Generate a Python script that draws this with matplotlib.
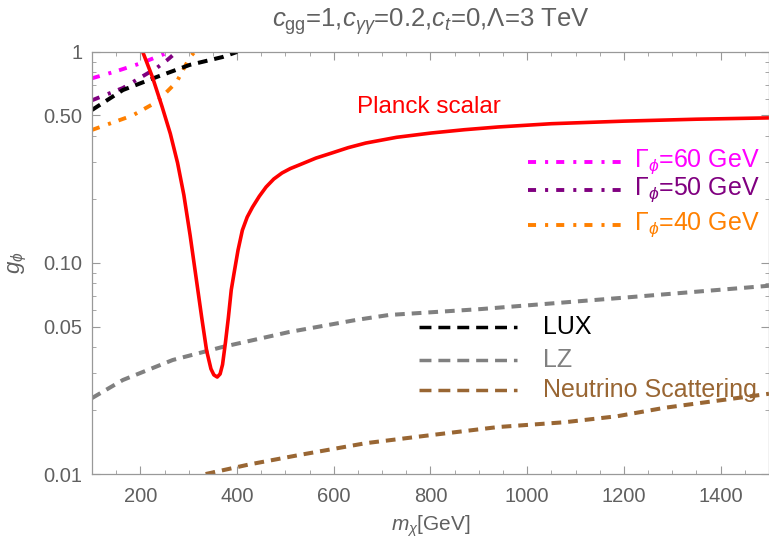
import numpy as np
import matplotlib
matplotlib.use('Agg')
import matplotlib.pyplot as plt
from matplotlib.lines import Line2D
from matplotlib.ticker import FixedLocator, MultipleLocator, LogLocator, NullFormatter

plt.rcParams['font.family'] = ['Liberation Sans', 'DejaVu Sans']
plt.rcParams['mathtext.fontset'] = 'custom'
plt.rcParams['mathtext.rm'] = 'Liberation Sans'
plt.rcParams['mathtext.it'] = 'Liberation Sans:italic'
plt.rcParams['lines.scale_dashes'] = False

# Planck scalar relic curve
red_m = [205, 225, 245, 262, 277, 290, 303, 316, 327, 337, 346, 352, 359, 365, 370, 376,
         382, 388, 394, 402, 411, 421, 432, 446, 460, 476, 493, 510, 528, 563, 596, 630,
         666, 730, 802, 870, 940, 1050, 1200, 1350, 1500]
red_g = [1.0, 0.76, 0.55, 0.41, 0.298, 0.21, 0.135, 0.083, 0.055, 0.0385, 0.0315, 0.0295,
         0.0288, 0.0298, 0.033, 0.042, 0.055, 0.0745, 0.09, 0.115, 0.143, 0.165, 0.184,
         0.207, 0.229, 0.250, 0.267, 0.280, 0.291, 0.314, 0.332, 0.352, 0.370, 0.394,
         0.413, 0.428, 0.441, 0.457, 0.470, 0.480, 0.487]

# width contours
w60_m = [100, 150, 205, 240, 262]
w60_g = [0.75, 0.81, 0.89, 0.96, 1.0]
w50_m = [100, 164, 234, 256, 275]
w50_g = [0.59, 0.675, 0.84, 0.917, 1.0]
w40_m = [100, 184, 234, 275, 302, 312]
w40_g = [0.427, 0.50, 0.58, 0.72, 0.94, 1.0]

# direct detection limits
lux_m = [100, 164, 234, 302, 370, 400]
lux_g = [0.531, 0.66, 0.761, 0.868, 0.946, 1.0]
lz_m = [100, 164, 267, 370, 508, 646, 714, 905, 1193, 1500]
lz_g = [0.0229, 0.0279, 0.0347, 0.040, 0.0471, 0.0537, 0.0567, 0.0605, 0.0683, 0.078]
nu_m = [335, 425, 528, 666, 802, 940, 1078, 1187, 1284, 1482, 1500]
nu_g = [0.01, 0.0111, 0.0123, 0.0140, 0.0153, 0.0167, 0.0176, 0.0188, 0.0206, 0.0237, 0.0240]

ytick_vals = [0.01, 0.05, 0.1, 0.5, 1]
ytick_labels = ['0.01', '0.05', '0.10', '0.50', '1']

RED = '#FF0000'
MAGENTA = '#FF00FF'
PURPLE = '#800080'
ORANGE = '#FF8000'
GRAY = '#808080'
BROWN = '#996633'
TXT = '#606060'
FRAME = '#999999'

dotdash = (0, (5.8, 6.5, 2.2, 5.8))
dash = (0, (7.0, 5.0))
dash_leg = (0, (8.6, 5.0))

fig = plt.figure(figsize=(7.69, 5.41), dpi=100)
ax = fig.add_axes([0.1196, 0.1238, 0.8804, 0.7802])

ax.plot(w60_m, w60_g, color=MAGENTA, lw=2.8, linestyle=dotdash, dash_capstyle='butt')
ax.plot(w50_m, w50_g, color=PURPLE, lw=2.8, linestyle=dotdash, dash_capstyle='butt')
ax.plot(w40_m, w40_g, color=ORANGE, lw=2.8, linestyle=dotdash, dash_capstyle='butt')
ax.plot(lux_m, lux_g, color='black', lw=2.9, linestyle=dash, dash_capstyle='butt')
ax.plot(lz_m, lz_g, color=GRAY, lw=2.9, linestyle=dash, dash_capstyle='butt')
ax.plot(nu_m, nu_g, color=BROWN, lw=2.9, linestyle=dash, dash_capstyle='butt')
ax.plot(red_m, red_g, color=RED, lw=2.6, solid_capstyle='butt')

ax.set_yscale('log')
ax.set_xlim(100, 1500)
ax.set_ylim(0.01, 1)

ax.xaxis.set_major_locator(FixedLocator([200, 400, 600, 800, 1000, 1200, 1400]))
ax.xaxis.set_minor_locator(MultipleLocator(50))
ax.yaxis.set_major_locator(FixedLocator(ytick_vals))
ax.set_yticklabels(ytick_labels)
ax.yaxis.set_minor_locator(LogLocator(base=10, subs=np.arange(2, 10)))
ax.yaxis.set_minor_formatter(NullFormatter())

ax.tick_params(which='both', direction='in', top=True, right=True, colors=FRAME,
               labelcolor=TXT, labelsize=14.5)
ax.tick_params(which='major', length=6, width=0.8)
ax.tick_params(which='minor', length=3, width=0.6)
ax.tick_params(axis='x', which='major', pad=9)
ax.tick_params(axis='y', which='major', pad=7)
for s in ax.spines.values():
    s.set_color(FRAME)
    s.set_linewidth(0.9)

ax.set_title(r'$c_{\rm gg}$=1,$c_{\gamma\gamma}$=0.2,$c_t$=0,$\Lambda$=3 TeV',
             color=TXT, fontsize=18.5, pad=18)
ax.set_xlabel(r'$m_\chi$[GeV]', color=TXT, fontsize=15, labelpad=6)
ax.set_ylabel(r'$g_\phi$', color=TXT, fontsize=16, labelpad=10)

ax.text(0.391, 0.870, 'Planck scalar', transform=ax.transAxes, color=RED,
        fontsize=17.5, va='center', ha='left')

# width legend
for y, c, lab in [(0.739, MAGENTA, r'$\Gamma_\phi$=60 GeV'),
                  (0.673, PURPLE, r'$\Gamma_\phi$=50 GeV'),
                  (0.590, ORANGE, r'$\Gamma_\phi$=40 GeV')]:
    ax.add_line(Line2D([0.644, 0.792], [y, y], transform=ax.transAxes, color=c, lw=2.8,
                       linestyle=dotdash, dash_capstyle='butt'))
    ax.text(0.800, y, lab, transform=ax.transAxes, color=c, fontsize=18, va='center')

# limits legend
for y, c, lab in [(0.349, 'black', 'LUX'), (0.270, GRAY, 'LZ'),
                  (0.198, BROWN, 'Neutrino Scattering')]:
    ax.add_line(Line2D([0.483, 0.628], [y, y], transform=ax.transAxes, color=c, lw=2.5,
                       linestyle=dash_leg, dash_capstyle='butt'))
    ax.text(0.666, y, lab, transform=ax.transAxes, color=c, fontsize=18, va='center')

fig.savefig('out.png', dpi=100)
